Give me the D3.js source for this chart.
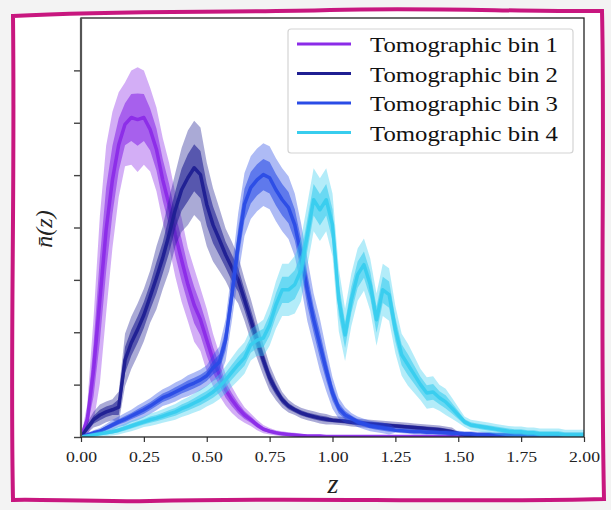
<!DOCTYPE html>
<html>
<head>
<meta charset="utf-8">
<script src="https://cdn.jsdelivr.net/npm/d3@7"></script>
<style>
  html, body { margin: 0; padding: 0; background: #f3f3f3; }
  svg { display: block; }
</style>
</head>
<body>
<div id="chart"></div>
<script>
// redshift grid, one sample every 0.025
const zGrid = d3.range(0, 2.0001, 0.025);
const binNames = ["Tomographic bin 1", "Tomographic bin 2", "Tomographic bin 3", "Tomographic bin 4"];
const binColors = ["#8b2be8", "#1f1f92", "#2a4ce6", "#38cdee"];
const xTicks = [0, 0.25, 0.5, 0.75, 1.0, 1.25, 1.5, 1.75, 2.0];
const yTicks = [0, 1, 2, 3, 4, 5, 6, 7];

// mean n(z) of each bin
const bin1Mean = [0, 0.33, 1.28, 2.62, 3.96, 4.91, 5.58, 5.97, 6.10, 6.06,
  6.10, 5.87, 5.49, 4.91, 4.44, 3.86, 3.38, 2.91, 2.52, 2.24,
  1.85, 1.47, 1.19, 0.90, 0.71, 0.55, 0.42, 0.33, 0.23, 0.15,
  0.11, 0.08, 0.06, 0.05, 0.04, 0.03, 0.02, 0.02, 0.02, 0.01,
  0.01, 0.01, 0.01, 0.01, 0.01, 0.01, 0.01, 0.01, 0.01, 0.01,
  0.01, 0.01, 0.01, 0.01, 0.01, 0.01, 0.01, 0.01, 0.01, 0.01,
  0.01, 0.01, 0.01, 0.01, 0.01, 0.01, 0.01, 0.01, 0.01, 0.01,
  0.01, 0.01, 0.01, 0.01, 0.01, 0.01, 0.01, 0.01, 0.01, 0.01, 0.01];
const bin2Mean = [0, 0.17, 0.33, 0.42, 0.48, 0.52, 0.57, 1.47, 1.80, 2.05,
  2.33, 2.68, 3.04, 3.42, 3.86, 4.34, 4.72, 4.95, 5.14, 5.01,
  4.44, 4.05, 3.77, 3.48, 3.23, 3.00, 2.62, 2.24, 1.85, 1.47,
  1.13, 0.90, 0.71, 0.59, 0.52, 0.46, 0.42, 0.39, 0.36, 0.34,
  0.32, 0.31, 0.30, 0.28, 0.27, 0.26, 0.25, 0.24, 0.23, 0.22,
  0.21, 0.20, 0.19, 0.18, 0.17, 0.16, 0.15, 0.14, 0.12, 0.10,
  0.07, 0.04, 0.03, 0.02, 0.02, 0.02, 0.02, 0.02, 0.02, 0.02,
  0.02, 0.02, 0.02, 0.02, 0.02, 0.02, 0.02, 0.02, 0.02, 0.02, 0.02];
const bin3Mean = [0, 0.04, 0.08, 0.11, 0.17, 0.23, 0.29, 0.34, 0.40, 0.46,
  0.52, 0.59, 0.67, 0.75, 0.80, 0.86, 0.92, 0.98, 1.03, 1.09,
  1.17, 1.32, 1.43, 1.85, 2.72, 3.67, 4.44, 4.76, 4.91, 5.01,
  4.95, 4.72, 4.53, 4.38, 4.05, 3.48, 2.81, 2.24, 1.76, 1.28,
  0.84, 0.55, 0.42, 0.36, 0.29, 0.25, 0.21, 0.19, 0.17, 0.15,
  0.13, 0.12, 0.11, 0.10, 0.10, 0.09, 0.09, 0.08, 0.08, 0.07,
  0.07, 0.06, 0.06, 0.05, 0.05, 0.05, 0.04, 0.04, 0.04, 0.04,
  0.04, 0.03, 0.03, 0.03, 0.03, 0.03, 0.03, 0.03, 0.03, 0.03, 0.03];
const bin4Mean = [0, 0.02, 0.04, 0.06, 0.08, 0.10, 0.13, 0.17, 0.21, 0.25,
  0.29, 0.33, 0.36, 0.40, 0.44, 0.48, 0.54, 0.59, 0.65, 0.71,
  0.78, 0.86, 0.96, 1.09, 1.24, 1.38, 1.51, 1.76, 1.85, 1.89,
  2.14, 2.52, 2.81, 2.81, 2.91, 3.19, 3.86, 4.53, 4.34, 4.53,
  4.05, 2.62, 1.95, 2.62, 3.10, 3.29, 2.91, 2.24, 2.81, 2.72,
  2.05, 1.57, 1.38, 1.19, 1.00, 0.84, 0.86, 0.75, 0.67, 0.55,
  0.42, 0.29, 0.23, 0.21, 0.19, 0.17, 0.15, 0.13, 0.11, 0.10,
  0.10, 0.08, 0.08, 0.06, 0.06, 0.06, 0.06, 0.04, 0.04, 0.04, 0.04];

// half-width of the bundle of realisations around each mean
const bin1Spread = [0, 0.3, 1.0, 1.6, 1.6, 1.3, 1.0, 0.8, 0.9, 1.0,
  0.9, 0.8, 0.8, 0.8, 0.8, 0.8, 0.8, 0.7, 0.7, 0.6,
  0.6, 0.5, 0.4, 0.3, 0.25, 0.2, 0.15, 0.12, 0.1, 0.08,
  0.06, 0.05, 0.05, 0.04, 0.04, 0.03, 0.03, 0.03, 0.03, 0.02,
  0.02, 0.02, 0.02, 0.02, 0.02, 0.02, 0.02, 0.02, 0.02, 0.02,
  0.02, 0.02, 0.02, 0.02, 0.02, 0.02, 0.02, 0.02, 0.02, 0.02,
  0.02, 0.02, 0.02, 0.02, 0.02, 0.02, 0.02, 0.02, 0.02, 0.02,
  0.02, 0.02, 0.02, 0.02, 0.02, 0.02, 0.02, 0.02, 0.02, 0.02, 0.02];
const bin2Spread = [0, 0.1, 0.15, 0.2, 0.2, 0.2, 0.3, 0.5, 0.5, 0.5,
  0.5, 0.5, 0.6, 0.6, 0.7, 0.7, 0.8, 0.9, 0.9, 0.9,
  0.8, 0.7, 0.6, 0.5, 0.5, 0.45, 0.4, 0.4, 0.35, 0.3,
  0.25, 0.2, 0.15, 0.12, 0.1, 0.1, 0.1, 0.1, 0.1, 0.1,
  0.08, 0.08, 0.08, 0.08, 0.08, 0.08, 0.08, 0.08, 0.08, 0.08,
  0.08, 0.08, 0.08, 0.08, 0.08, 0.08, 0.08, 0.08, 0.08, 0.08,
  0.03, 0.03, 0.03, 0.03, 0.03, 0.03, 0.03, 0.03, 0.03, 0.03,
  0.03, 0.03, 0.03, 0.03, 0.03, 0.03, 0.03, 0.03, 0.03, 0.03, 0.03];
const bin3Spread = [0.02, 0.04, 0.05, 0.06, 0.08, 0.1, 0.1, 0.12, 0.12, 0.14,
  0.15, 0.15, 0.16, 0.16, 0.17, 0.18, 0.18, 0.2, 0.2, 0.2,
  0.2, 0.25, 0.3, 0.4, 0.5, 0.6, 0.6, 0.6, 0.6, 0.6,
  0.6, 0.6, 0.6, 0.6, 0.6, 0.6, 0.6, 0.5, 0.5, 0.4,
  0.3, 0.2, 0.15, 0.1, 0.1, 0.1, 0.1, 0.1, 0.1, 0.1,
  0.05, 0.05, 0.05, 0.05, 0.05, 0.05, 0.05, 0.05, 0.05, 0.05,
  0.05, 0.05, 0.05, 0.05, 0.05, 0.05, 0.05, 0.05, 0.05, 0.05,
  0.05, 0.05, 0.05, 0.05, 0.05, 0.05, 0.05, 0.05, 0.05, 0.05, 0.05];
const bin4Spread = [0.02, 0.03, 0.04, 0.05, 0.06, 0.07, 0.08, 0.09, 0.1, 0.1,
  0.1, 0.12, 0.12, 0.13, 0.14, 0.15, 0.16, 0.17, 0.18, 0.2,
  0.2, 0.22, 0.24, 0.26, 0.28, 0.3, 0.3, 0.3, 0.3, 0.35,
  0.4, 0.45, 0.5, 0.5, 0.55, 0.6, 0.6, 0.6, 0.6, 0.6,
  0.6, 0.6, 0.5, 0.5, 0.5, 0.5, 0.5, 0.5, 0.5, 0.5,
  0.45, 0.4, 0.4, 0.35, 0.3, 0.3, 0.3, 0.25, 0.25, 0.2,
  0.15, 0.1, 0.1, 0.1, 0.1, 0.1, 0.1, 0.1, 0.1, 0.1,
  0.1, 0.1, 0.1, 0.1, 0.1, 0.1, 0.1, 0.1, 0.1, 0.1, 0.1];

const means = [bin1Mean, bin2Mean, bin3Mean, bin4Mean];
const spreads = [bin1Spread, bin2Spread, bin3Spread, bin4Spread];

const width = 611;
const height = 510;
const plot = { left: 81, right: 584, top: 18, bottom: 437 };
const serif = "'Liberation Serif', 'Times New Roman', Times, serif";

const svg = d3.select("#chart")
  .append("svg")
  .attr("width", width)
  .attr("height", height);

// wavy pink frame
svg.append("path")
  .attr("d", "M13,16 C120,10 220,13 330,10 C430,7 520,12 602,11 " +
    "C605,140 600,300 604,499 C450,503 300,497 150,501 C90,502 40,499 13,500 " +
    "C10,350 15,200 13,16 Z")
  .attr("fill", "#ffffff")
  .attr("stroke", "#c8177f")
  .attr("stroke-width", 4);

const x = d3.scaleLinear().domain([0, 2]).range([plot.left, plot.right]);
const y = d3.scaleLinear().domain([0, 8]).range([plot.bottom, plot.top]);

svg.append("defs").append("clipPath")
  .attr("id", "clip")
  .append("rect")
  .attr("x", plot.left)
  .attr("y", plot.top)
  .attr("width", plot.right - plot.left)
  .attr("height", plot.bottom - plot.top);

const g = svg.append("g").attr("clip-path", "url(#clip)");

const line = d3.line()
  .x((d, i) => x(zGrid[i]))
  .y(d => y(d));

// draw each bin: outer bundle, inner bundle, then the mean
means.forEach((m, b) => {
  const s = spreads[b];
  [1, 0.5].forEach((f, j) => {
    const band = d3.area()
      .x((d, i) => x(zGrid[i]))
      .y0((d, i) => y(Math.max(0, m[i] - f * s[i])))
      .y1((d, i) => y(m[i] + f * s[i]));
    g.append("path")
      .datum(m)
      .attr("d", band)
      .attr("fill", binColors[b])
      .attr("fill-opacity", j === 0 ? 0.38 : 0.6);
  });
  g.append("path")
    .datum(m)
    .attr("d", line)
    .attr("fill", "none")
    .attr("stroke", binColors[b])
    .attr("stroke-width", 3.5)
    .attr("stroke-linejoin", "round")
    .attr("opacity", 0.95);
});

// axes
const xAxis = d3.axisBottom(x).tickValues(xTicks).tickSize(5).tickFormat(d3.format(".2f"));
const gx = svg.append("g")
  .attr("transform", `translate(0, ${plot.bottom})`)
  .call(xAxis);
gx.select(".domain").remove();
gx.selectAll("line").attr("stroke", "#333").attr("stroke-width", 1.2);
gx.selectAll("text")
  .attr("fill", "#222")
  .attr("font-family", serif)
  .attr("font-size", 15)
  .attr("dy", "1.1em")
  .attr("textLength", 31)
  .attr("lengthAdjust", "spacingAndGlyphs");

const yAxis = d3.axisLeft(y).tickValues(yTicks).tickSize(7).tickFormat("");
const gy = svg.append("g")
  .attr("transform", `translate(${plot.left}, 0)`)
  .call(yAxis);
gy.select(".domain").remove();
gy.selectAll("line").attr("stroke", "#444").attr("stroke-width", 1.4);

// spines
svg.append("rect")
  .attr("x", plot.left)
  .attr("y", plot.top)
  .attr("width", plot.right - plot.left)
  .attr("height", plot.bottom - plot.top)
  .attr("fill", "none")
  .attr("stroke", "#222")
  .attr("stroke-width", 1.3);
svg.append("line")
  .attr("x1", plot.left).attr("x2", plot.left)
  .attr("y1", plot.top).attr("y2", plot.bottom)
  .attr("stroke", "#555").attr("stroke-width", 2.2);

// axis titles
svg.append("text")
  .attr("x", 333)
  .attr("y", 493)
  .attr("text-anchor", "middle")
  .attr("font-family", serif)
  .attr("font-style", "italic")
  .attr("font-size", 28)
  .attr("fill", "#222")
  .text("z");

svg.append("text")
  .attr("transform", "translate(52, 229) rotate(-90)")
  .attr("text-anchor", "middle")
  .attr("font-family", serif)
  .attr("font-style", "italic")
  .attr("font-size", 24)
  .attr("fill", "#222")
  .text("n\u0304(z)");

// legend
const legend = svg.append("g");
legend.append("rect")
  .attr("x", 288)
  .attr("y", 29)
  .attr("width", 285)
  .attr("height", 124)
  .attr("rx", 3)
  .attr("fill", "#ffffff")
  .attr("fill-opacity", 0.85)
  .attr("stroke", "#d4d4d4")
  .attr("stroke-width", 1.2);

binNames.forEach((name, i) => {
  const cy = 44 + i * 29.5;
  legend.append("line")
    .attr("x1", 297).attr("x2", 351)
    .attr("y1", cy).attr("y2", cy)
    .attr("stroke", binColors[i])
    .attr("stroke-width", 3);
  legend.append("text")
    .attr("x", 370)
    .attr("y", cy + 8)
    .attr("font-family", serif)
    .attr("font-size", 22)
    .attr("fill", "#111")
    .attr("textLength", 188)
    .attr("lengthAdjust", "spacingAndGlyphs")
    .text(name);
});
</script>
</body>
</html>
